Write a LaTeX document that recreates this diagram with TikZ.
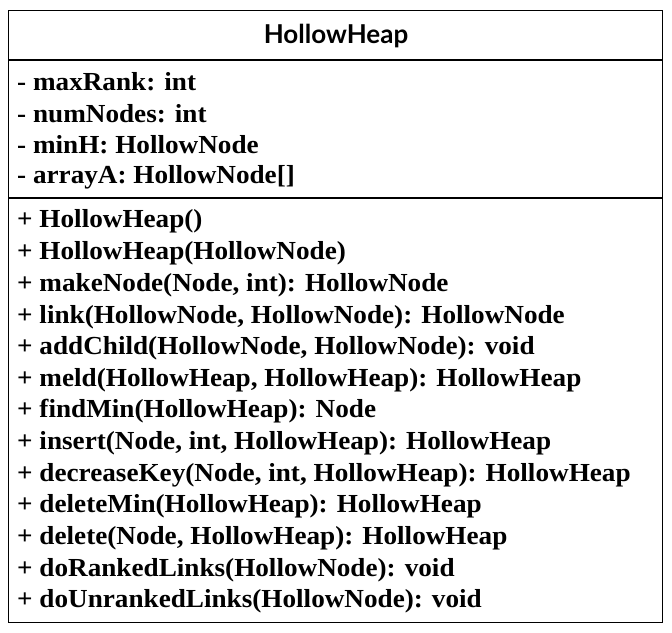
\documentclass[tikz,border=0pt]{standalone}
\usepackage{fontspec}
\setmainfont{Liberation Serif}
\newfontfamily\memberfont[FakeStretch=1.045]{Liberation Serif}
\newfontfamily\titlefont{Lato}
\begin{document}
\begin{tikzpicture}[x=1pt,y=-1pt,
  member/.style={anchor=west,inner sep=0pt,font=\memberfont\bfseries\fontsize{26}{30}\selectfont},
  boxline/.style={line width=1.3pt,black}]
\useasboundingbox (0,0) rectangle (672,632);
\node[draw,boxline,minimum width=654pt,minimum height=612pt,anchor=north west,inner sep=0pt] (box) at (8,10) {};
\node[inner sep=0pt,font=\titlefont\fontsize{26}{30}\selectfont\bfseries] (title) at (336,36) {HollowHeap};
\coordinate (s1l) at (8,60); \coordinate (s1r) at (662,60);
\coordinate (s2l) at (8,198); \coordinate (s2r) at (662,198);
\draw[boxline] (s1l) -- (s1r);
\draw[boxline] (s2l) -- (s2r);
\node[member] (a1) at (17,82) {- maxRank: int};
\node[member] (a2) at (17,114) {- numNodes: int};
\node[member] (a3) at (17,145) {- minH: HollowNode};
\node[member] (a4) at (17,177) {- arrayA: HollowNode[]};
\node[member] (m1) at (17,221) {+ HollowHeap()};
\node[member] (m2) at (17,253) {+ HollowHeap(HollowNode)};
\node[member] (m3) at (17,285) {+ makeNode(Node, int): HollowNode};
\node[member] (m4) at (17,317) {+ link(HollowNode, HollowNode): HollowNode};
\node[member] (m5) at (17,348) {+ addChild(HollowNode, HollowNode): void};
\node[member] (m6) at (17,380) {+ meld(HollowHeap, HollowHeap): HollowHeap};
\node[member] (m7) at (17,411) {+ findMin(HollowHeap): Node};
\node[member] (m8) at (17,443) {+ insert(Node, int, HollowHeap): HollowHeap};
\node[member] (m9) at (17,475) {+ decreaseKey(Node, int, HollowHeap): HollowHeap};
\node[member] (m10) at (17,506) {+ deleteMin(HollowHeap): HollowHeap};
\node[member] (m11) at (17,538) {+ delete(Node, HollowHeap): HollowHeap};
\node[member] (m12) at (17,570) {+ doRankedLinks(HollowNode): void};
\node[member] (m13) at (17,601) {+ doUnrankedLinks(HollowNode): void};
\end{tikzpicture}
\end{document}
